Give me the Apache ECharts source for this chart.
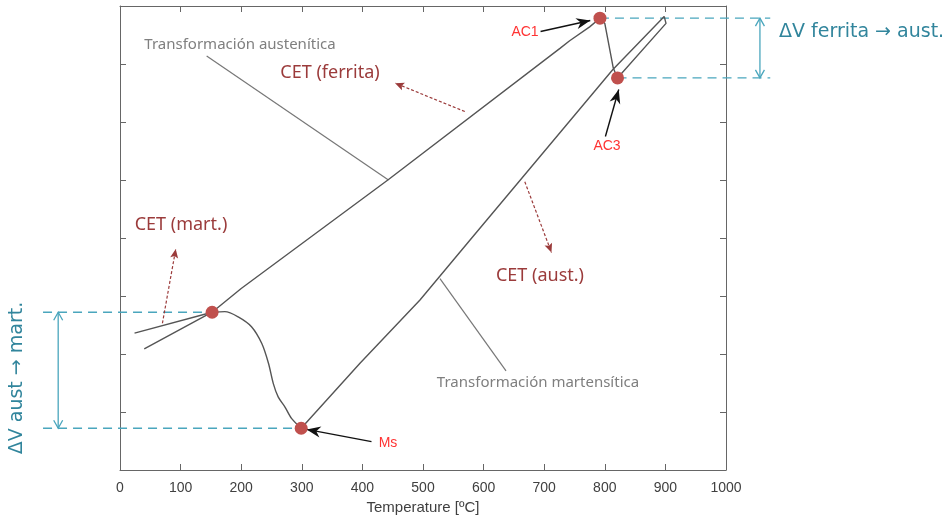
<!DOCTYPE html>
<html>
  <head>
    <meta charset="utf-8" />
    <title>Dilatometría - ciclo térmico</title>
    <script src="https://cdn.jsdelivr.net/npm/echarts@6/dist/echarts.min.js"></script>
    <style>
      html, body { margin: 0; padding: 0; background: #fff; }
      #chart { width: 952px; height: 520px; }
    </style>
  </head>
  <body>
    <div id="chart"></div>
    <script type="text/javascript">
      // datos (x = temperatura, y = dilatación, unidades arbitrarias)

      // calentamiento: ferrita -> AC1 -> AC3 -> 900
      var heating = [
        [40, 2.09], [152, 2.72], [200, 3.13], [442, 5.0], [726, 7.27],
        [742, 7.4], [775, 7.64], [792, 7.79], [800, 7.7], [814, 6.93],
        [821, 6.76], [901, 7.7], [898, 7.82]
      ];
      // enfriamiento de la austenita hasta Ms
      var coolingAust = [
        [898, 7.82], [813, 6.9], [578, 3.97], [495, 2.93], [396, 1.84], [299, 0.72]
      ];
      // transformación martensítica
      var martCurve = [
        [299, 0.72], [283, 0.89], [272, 1.09], [261, 1.26], [253, 1.49],
        [245, 1.84], [234, 2.18], [217, 2.47], [195, 2.64], [173, 2.73], [152, 2.72]
      ];
      // martensita enfriando
      var martLine = [[152, 2.72], [24, 2.36]];

      var pointNames = ["AC1", "AC3", "Ms", "Mf"];
      var pointX = [792, 821, 299, 152];
      var pointY = [7.79, 6.76, 0.72, 2.72];

      // anotaciones [x1, y1, x2, y2] en unidades de los ejes
      var guideLines = [[143, 7.14, 443, 5.0], [528, 3.3, 637, 1.71]];
      var levelLines = [
        [792, 7.79, 1073, 7.79], [821, 6.76, 1073, 6.76],
        [-127, 2.72, 152, 2.72], [-127, 0.72, 299, 0.72]
      ];
      var deltaArrows = [[1056, 7.79, 1056, 6.76], [-102, 2.72, -102, 0.72]];
      var cetArrows = [[569, 6.18, 454, 6.67], [668, 4.97, 712, 3.75], [70, 2.53, 92, 3.81]];
      var pointerArrows = [[694, 7.56, 776, 7.75], [801, 5.75, 823, 6.56], [415, 0.49, 308, 0.7]];

      var chart = echarts.init(document.getElementById("chart"));

      var blue = "#4aa6bd";
      var darkRed = "#9b3b3b";

      function headShape(from, to, head) {
        var dx = to[0] - from[0], dy = to[1] - from[1];
        var d = Math.sqrt(dx * dx + dy * dy);
        var ux = dx / d, uy = dy / d, nx = -uy, ny = ux;
        var bx = to[0] - ux * head.len, by = to[1] - uy * head.len;
        var left = [bx + nx * head.hw, by + ny * head.hw];
        var right = [bx - nx * head.hw, by - ny * head.hw];
        if (head.kind === "open") {
          return {
            type: "polyline",
            shape: { points: [left, to, right] },
            style: { stroke: head.color, lineWidth: head.lw, fill: null }
          };
        }
        var notch = [to[0] - ux * head.len * (1 - head.notch), to[1] - uy * head.len * (1 - head.notch)];
        return {
          type: "polygon",
          shape: { points: [to, left, notch, right] },
          style: { fill: head.color, stroke: null }
        };
      }

      function arrowSeries(name, data, color, width, dash, head) {
        return {
          name: name,
          type: "custom",
          clip: false,
          silent: true,
          z: 3,
          encode: { x: [0, 2], y: [1, 3] },
          data: data,
          renderItem: function (params, api) {
            var p1 = api.coord([api.value(0), api.value(1)]);
            var p2 = api.coord([api.value(2), api.value(3)]);
            var children = [{
              type: "line",
              shape: { x1: p1[0], y1: p1[1], x2: p2[0], y2: p2[1] },
              style: { stroke: color, lineWidth: width, lineDash: dash }
            }];
            if (head && head.end) children.push(headShape(p1, p2, head));
            if (head && head.start) children.push(headShape(p2, p1, head));
            return { type: "group", children: children };
          }
        };
      }

      var axisBase = {
        type: "value",
        axisLine: { show: true, onZero: false, lineStyle: { color: "#666", width: 1 } },
        axisTick: { show: true, inside: true, length: 6, lineStyle: { color: "#666" } },
        splitLine: { show: false }
      };

      function txt(x, y, text, fill, font, align, rot) {
        return {
          type: "text", x: x, y: y, rotation: rot || 0, silent: true,
          style: {
            text: text, fill: fill, font: font,
            align: align || "center", verticalAlign: "middle",
            textAlign: align || "center", textVerticalAlign: "middle"
          }
        };
      }

      var option = {
        animation: false,
        backgroundColor: "#fff",
        grid: { left: 120, right: 226, top: 6, bottom: 50 },
        xAxis: [
          Object.assign({}, axisBase, {
            min: 0, max: 1000, interval: 100, position: "bottom",
            name: "Temperature [ºC]",
            nameLocation: "middle",
            nameGap: 30,
            nameTextStyle: { color: "#404040", fontSize: 15, fontFamily: "Liberation Sans" },
            axisLabel: {
              color: "#404040", fontSize: 14, margin: 11, fontFamily: "Liberation Sans",
              formatter: function (v) { return String(v); }
            }
          }),
          Object.assign({}, axisBase, {
            min: 0, max: 1000, interval: 100, position: "top",
            axisLabel: { show: false }
          })
        ],
        yAxis: [
          Object.assign({}, axisBase, {
            min: 0, max: 8, interval: 1, position: "left",
            axisLabel: { show: false }
          }),
          Object.assign({}, axisBase, {
            min: 0, max: 8, interval: 1, position: "right",
            axisLabel: { show: false }
          })
        ],
        series: [
          arrowSeries("guias", guideLines, "#777", 1.2, null, null),
          arrowSeries("nivel", levelLines, blue, 1.3, [9, 6], null),
          arrowSeries("deltaV", deltaArrows, blue, 1.3, null,
            { start: true, end: true, kind: "open", len: 8, hw: 4.5, color: blue, lw: 1.3 }),
          arrowSeries("cet", cetArrows, darkRed, 1.2, [3, 2],
            { end: true, kind: "stealth", len: 9, hw: 4, notch: 0.2, color: darkRed }),
          arrowSeries("flechas", pointerArrows, "#111", 1.4, null,
            { end: true, kind: "stealth", len: 14, hw: 5.5, notch: 0.3, color: "#111" }),
          {
            name: "calentamiento",
            type: "line",
            data: heating,
            symbol: "none",
            lineStyle: { color: "#555", width: 1.4 }
          },
          {
            name: "enfriamiento",
            type: "line",
            data: coolingAust,
            symbol: "none",
            lineStyle: { color: "#555", width: 1.4 }
          },
          {
            name: "martensita",
            type: "line",
            data: martCurve,
            symbol: "none",
            smooth: 0.3,
            lineStyle: { color: "#555", width: 1.4 }
          },
          {
            name: "martensita2",
            type: "line",
            data: martLine,
            symbol: "none",
            lineStyle: { color: "#555", width: 1.4 }
          },
          {
            name: "puntos",
            type: "scatter",
            z: 5,
            symbolSize: 13,
            itemStyle: { color: "#c0504d", opacity: 1 },
            data: pointX.map(function (x, i) {
              return { name: pointNames[i], value: [x, pointY[i]] };
            })
          }
        ],
        graphic: [
          txt(525, 32, "AC1", "#ff3333", "14px 'Liberation Sans'"),
          txt(607, 146, "AC3", "#ff3333", "14px 'Liberation Sans'"),
          txt(388, 443, "Ms", "#ff3333", "14px 'Liberation Sans'"),
          txt(240, 45, "Transformación austenítica", "#7f7f7f", "15px 'Noto Sans'"),
          txt(538, 383, "Transformación martensítica", "#7f7f7f", "15px 'Noto Sans'"),
          txt(330, 73, "CET (ferrita)", darkRed, "18px 'Noto Sans'"),
          txt(181, 225, "CET (mart.)", darkRed, "18px 'Noto Sans'"),
          txt(540, 276, "CET (aust.)", darkRed, "18px 'Noto Sans'"),
          txt(779, 32, "ΔV ferrita → aust.", "#31859c", "19px 'DejaVu Sans'", "left"),
          txt(17, 378, "ΔV aust → mart.", "#31859c", "19px 'DejaVu Sans'", "center", Math.PI / 2)
        ]
      };

      chart.setOption(option);
    </script>
  </body>
</html>
